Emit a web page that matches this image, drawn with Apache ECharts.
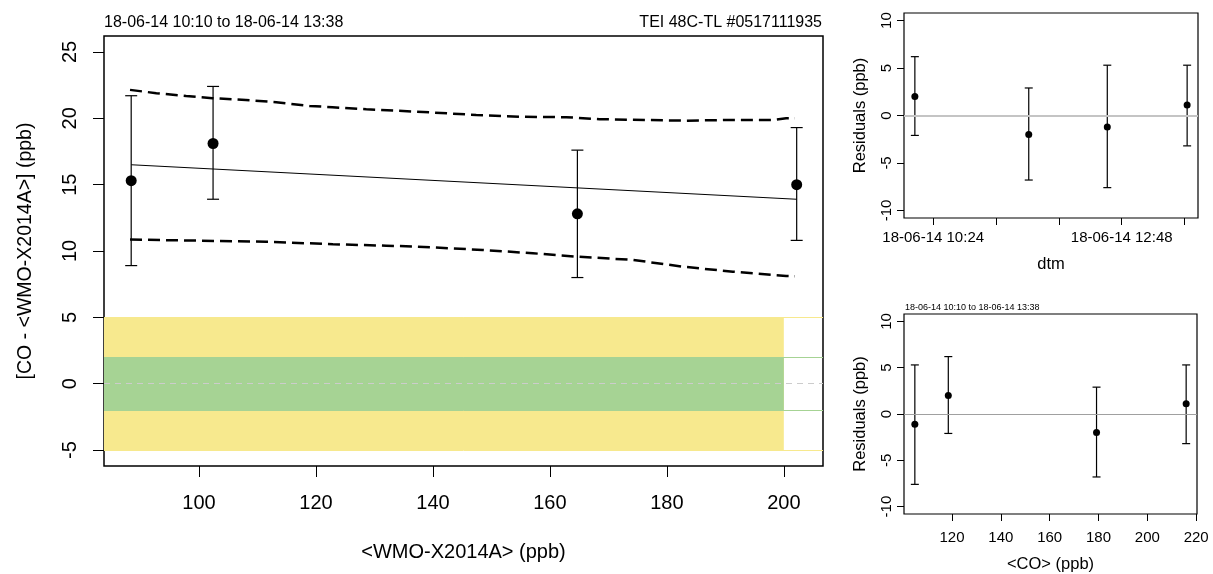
<!DOCTYPE html>
<html>
<head>
<meta charset="utf-8">
<script src="https://cdn.jsdelivr.net/npm/echarts@6/dist/echarts.min.js"></script>
<style>
  html, body { margin: 0; padding: 0; background: #fff; }
  #chart { width: 1213px; height: 574px; }
</style>
</head>
<body>
<div id="chart"></div>
<script>
// main panel: <CO> - <WMO> against <WMO>
const mainX = [88.4, 102.4, 164.7, 202.2]
const mainY = [15.3, 18.1, 12.8, 15.0]
const mainLow = [8.9, 13.9, 8.0, 10.8]
const mainHigh = [21.7, 22.4, 17.6, 19.3]
const fitX = [88.4, 202.2]
const fitY = [16.5, 13.9]
const upperX = [88.2, 92.7, 97.8, 102.3, 108.0, 113.2, 118.9, 122.8, 128.6, 137.1, 147.4, 154.8, 162.8, 168.5, 183.3, 191.2, 198.1, 200.4, 201.9]
const upperY = [22.14, 21.89, 21.68, 21.51, 21.38, 21.21, 20.93, 20.83, 20.68, 20.5, 20.25, 20.12, 20.08, 19.93, 19.82, 19.88, 19.88, 20.0, 20.0]
const lowerX = [88.2, 100.0, 111.5, 122.9, 132.0, 137.1, 148.5, 157.1, 164.7, 174.2, 182.7, 191.3, 200.4, 201.9]
const lowerY = [10.86, 10.78, 10.7, 10.51, 10.4, 10.33, 10.08, 9.83, 9.57, 9.33, 8.82, 8.44, 8.12, 8.1]
const outerBand = [-5, 5]
const innerBand = [-2, 2]
const bandEnd = 200
const mainXTicks = [100, 120, 140, 160, 180, 200]
const mainYTicks = [-5, 0, 5, 10, 15, 20, 25]

// residuals against time
const dtmTimes = ['10:10', '11:37', '12:37', '13:38']
const dtmResid = [2.0, -2.0, -1.2, 1.1]
const dtmLow = [-2.1, -6.8, -7.6, -3.2]
const dtmHigh = [6.2, 2.9, 5.3, 5.3]
const dtmTicks = ['10:24', '11:12', '12:00', '12:48', '13:36']
const dtmLabels = ['10:24', '12:48']

// residuals against <CO>
const coX = [104.8, 118.5, 179.2, 215.9]
const coResid = [-1.1, 2.0, -2.0, 1.1]
const coLow = [-7.6, -2.1, -6.8, -3.2]
const coHigh = [5.3, 6.2, 2.9, 5.3]
const coTicks = [120, 140, 160, 180, 200, 220]
const residTicks = [-10, -5, 0, 5, 10]

const FONT = '"Liberation Sans", Arial, sans-serif'
const toMin = t => { const [h, m] = t.split(':').map(Number); return h * 60 + m }
const fmtMin = v => {
  const h = Math.floor(v / 60), m = Math.round(v - h * 60)
  return '18-06-14 ' + String(h).padStart(2, '0') + ':' + String(m).padStart(2, '0')
}

function errorBars(capHalf, width) {
  return function (params, api) {
    const top = api.coord([api.value(0), api.value(2)])
    const bot = api.coord([api.value(0), api.value(1)])
    const style = { stroke: '#000', lineWidth: width }
    return {
      type: 'group',
      children: [
        { type: 'line', shape: { x1: top[0], y1: top[1], x2: bot[0], y2: bot[1] }, style },
        { type: 'line', shape: { x1: top[0] - capHalf, y1: top[1], x2: top[0] + capHalf, y2: top[1] }, style },
        { type: 'line', shape: { x1: bot[0] - capHalf, y1: bot[1], x2: bot[0] + capHalf, y2: bot[1] }, style }
      ]
    }
  }
}

function valueAxis(grid, min, max, ticks, size, tickLen, margin, extra) {
  return Object.assign({
    type: 'value', gridIndex: grid, min, max,
    axisLine: { show: false, onZero: false },
    splitLine: { show: false },
    axisTick: { show: true, length: tickLen, customValues: ticks, lineStyle: { color: '#000', width: 1 } },
    axisLabel: { customValues: ticks, color: '#000', fontSize: size, fontFamily: FONT, margin },
    nameTextStyle: { color: '#000', fontFamily: FONT }
  }, extra)
}

const chart = echarts.init(document.getElementById('chart'))
const zip = (...cols) => cols[0].map((_, i) => cols.map(c => c[i]))

chart.setOption({
  animation: false,
  title: [
    { text: '18-06-14 10:10 to 18-06-14 13:38', left: 104, top: 15, padding: 0,
      textStyle: { fontSize: 16, fontWeight: 'normal', color: '#000', fontFamily: FONT } },
    { text: 'TEI 48C-TL #0517111935', right: 391, top: 15, padding: 0,
      textStyle: { fontSize: 16, fontWeight: 'normal', color: '#000', fontFamily: FONT } },
    { text: '18-06-14 10:10 to 18-06-14 13:38', left: 905, top: 303, padding: 0,
      textStyle: { fontSize: 9, fontWeight: 'normal', color: '#000', fontFamily: FONT } }
  ],
  grid: [
    { left: 104, top: 36, right: 390, bottom: 108, show: true, borderColor: '#000', borderWidth: 1.5 },
    { left: 904, top: 13, right: 15, bottom: 356, show: true, borderColor: '#000', borderWidth: 1.2 },
    { left: 904, top: 314, right: 16, bottom: 55, show: true, borderColor: '#000', borderWidth: 1.2 }
  ],
  xAxis: [
    valueAxis(0, 83.75, 206.7, mainXTicks, 20, 11, 27, {
      name: '<WMO-X2014A> (ppb)', nameLocation: 'middle', nameGap: 76,
      nameTextStyle: { color: '#000', fontFamily: FONT, fontSize: 20 }
    }),
    valueAxis(1, 601.7, 826.3, dtmTicks.map(toMin), 15, 7, 12, {
      axisLabel: { customValues: dtmLabels.map(toMin), formatter: fmtMin, color: '#000', fontSize: 15, fontFamily: FONT, margin: 12 },
      name: 'dtm', nameLocation: 'middle', nameGap: 38,
      nameTextStyle: { color: '#000', fontFamily: FONT, fontSize: 16.5 }
    }),
    valueAxis(2, 100.36, 220.34, coTicks, 15, 7, 16, {
      name: '<CO> (ppb)', nameLocation: 'middle', nameGap: 42,
      nameTextStyle: { color: '#000', fontFamily: FONT, fontSize: 16.5 }
    })
  ],
  yAxis: [
    valueAxis(0, -6.2, 26.2, mainYTicks, 20, 11, 24, {
      name: '[CO - <WMO-X2014A>] (ppb)', nameLocation: 'middle', nameGap: 68,
      nameTextStyle: { color: '#000', fontFamily: FONT, fontSize: 19.5 }
    }),
    valueAxis(1, -10.8, 10.8, residTicks, 15, 7, 10, {
      name: 'Residuals (ppb)', nameLocation: 'middle', nameGap: 35,
      nameTextStyle: { color: '#000', fontFamily: FONT, fontSize: 16.5 }
    }),
    valueAxis(2, -10.8, 10.8, residTicks, 15, 7, 10, {
      name: 'Residuals (ppb)', nameLocation: 'middle', nameGap: 35,
      nameTextStyle: { color: '#000', fontFamily: FONT, fontSize: 16.5 }
    })
  ].map(a => (a.axisLabel.rotate = 90, a)),
  series: [
    {
      type: 'line', xAxisIndex: 0, yAxisIndex: 0, data: [], silent: true,
      markArea: {
        silent: true,
        data: [
          [{ xAxis: 83.75, yAxis: outerBand[0], itemStyle: { color: '#f7e98e' } }, { xAxis: bandEnd, yAxis: outerBand[1] }],
          [{ xAxis: 83.75, yAxis: innerBand[0], itemStyle: { color: '#a6d394' } }, { xAxis: bandEnd, yAxis: innerBand[1] }]
        ]
      },
      markLine: {
        silent: true, symbol: 'none', label: { show: false },
        data: [
          { yAxis: outerBand[0], lineStyle: { color: '#f7e98e', width: 1, type: 'solid' } },
          { yAxis: outerBand[1], lineStyle: { color: '#f7e98e', width: 1, type: 'solid' } },
          { yAxis: innerBand[0], lineStyle: { color: '#a6d394', width: 1, type: 'solid' } },
          { yAxis: innerBand[1], lineStyle: { color: '#a6d394', width: 1, type: 'solid' } },
          { yAxis: 0, lineStyle: { color: '#cccccc', width: 1, type: [6, 5] } }
        ]
      }
    },
    {
      type: 'line', xAxisIndex: 0, yAxisIndex: 0, data: zip(upperX, upperY), symbol: 'none',
      lineStyle: { color: '#000', width: 2.5, type: [12, 6] }
    },
    {
      type: 'line', xAxisIndex: 0, yAxisIndex: 0, data: zip(lowerX, lowerY), symbol: 'none',
      lineStyle: { color: '#000', width: 2.5, type: [12, 6] }
    },
    {
      type: 'line', xAxisIndex: 0, yAxisIndex: 0, data: zip(fitX, fitY), symbol: 'none',
      lineStyle: { color: '#000', width: 1.2 }
    },
    {
      type: 'custom', xAxisIndex: 0, yAxisIndex: 0, data: zip(mainX, mainLow, mainHigh),
      encode: { x: 0, y: [1, 2] }, renderItem: errorBars(6, 1.2)
    },
    {
      type: 'scatter', xAxisIndex: 0, yAxisIndex: 0, data: zip(mainX, mainY),
      symbolSize: 11, itemStyle: { color: '#000', opacity: 1 }
    },

    {
      type: 'line', xAxisIndex: 1, yAxisIndex: 1, data: [], silent: true,
      markLine: {
        silent: true, symbol: 'none', label: { show: false },
        data: [{ yAxis: 0, lineStyle: { color: '#c4c4c4', width: 2, type: 'solid' } }]
      }
    },
    {
      type: 'custom', xAxisIndex: 1, yAxisIndex: 1, data: zip(dtmTimes.map(toMin), dtmLow, dtmHigh),
      encode: { x: 0, y: [1, 2] }, renderItem: errorBars(4, 1.2)
    },
    {
      type: 'scatter', xAxisIndex: 1, yAxisIndex: 1, data: zip(dtmTimes.map(toMin), dtmResid),
      symbolSize: 7, itemStyle: { color: '#000', opacity: 1 }
    },

    {
      type: 'line', xAxisIndex: 2, yAxisIndex: 2, data: [], silent: true,
      markLine: {
        silent: true, symbol: 'none', label: { show: false },
        data: [{ yAxis: 0, lineStyle: { color: '#a0a0a0', width: 1, type: 'solid' } }]
      }
    },
    {
      type: 'custom', xAxisIndex: 2, yAxisIndex: 2, data: zip(coX, coLow, coHigh),
      encode: { x: 0, y: [1, 2] }, renderItem: errorBars(4, 1.2)
    },
    {
      type: 'scatter', xAxisIndex: 2, yAxisIndex: 2, data: zip(coX, coResid),
      symbolSize: 7, itemStyle: { color: '#000', opacity: 1 }
    }
  ]
})
</script>
</body>
</html>
